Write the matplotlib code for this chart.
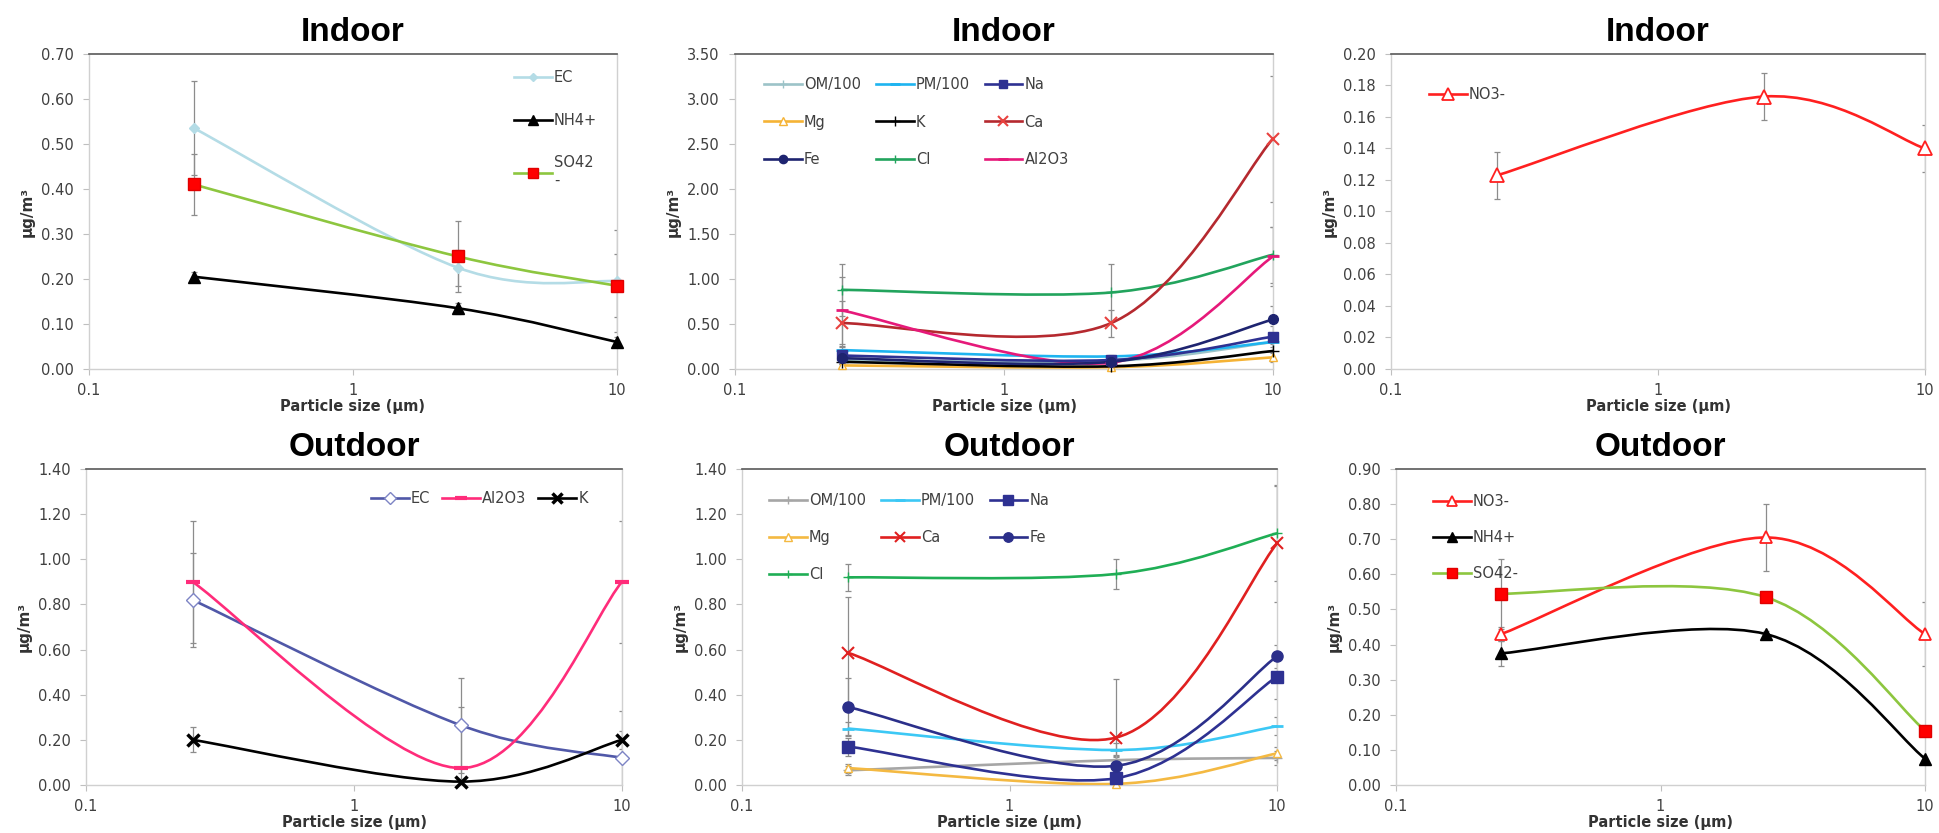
import numpy as np
import matplotlib
matplotlib.use("Agg")
import matplotlib.pyplot as plt
from matplotlib.path import Path
from matplotlib.patches import PathPatch
from matplotlib.lines import Line2D
from matplotlib.ticker import FixedLocator, FuncFormatter, NullLocator

W, H = 1939, 833
plt.rcParams['font.family'] = ['DejaVu Sans']

# particle size classes (um)
sizes = [0.25, 2.5, 10]

# --- Indoor, panel 1 (ug/m3)
in1_ec = [0.535, 0.225, 0.195]
in1_ec_err = [0.105, 0.04, 0.113]
in1_nh4 = [0.205, 0.135, 0.06]
in1_nh4_err = [0.01, 0.012, 0.01]
in1_so4 = [0.41, 0.25, 0.185]
in1_so4_err = [0.068, 0.078, 0.07]

# --- Indoor, panel 2
in2_om = [0.10, 0.09, 0.30]
in2_om_err = [0.05, 0.03, 0.10]
in2_pm = [0.21, 0.14, 0.30]
in2_pm_err = [0.03, 0.02, 0.10]
in2_na = [0.15, 0.10, 0.36]
in2_na_err = [0.05, 0.03, 0.12]
in2_mg = [0.04, 0.02, 0.13]
in2_mg_err = [0.02, 0.01, 0.05]
in2_k = [0.08, 0.03, 0.20]
in2_k_err = [0.03, 0.02, 0.08]
in2_ca = [0.51, 0.51, 2.56]
in2_ca_err = [0.25, 0.15, 0.70]
in2_fe = [0.12, 0.08, 0.55]
in2_fe_err = [0.05, 0.04, 0.15]
in2_cl = [0.88, 0.85, 1.27]
in2_cl_err = [0.29, 0.32, 0.31]
in2_al = [0.65, 0.07, 1.25]
in2_al_err = [0.37, 0.05, 0.33]

# --- Indoor, panel 3
in3_no3 = [0.123, 0.173, 0.140]
in3_no3_err = [0.015, 0.015, 0.015]

# --- Outdoor, panel 4
out4_ec = [0.82, 0.265, 0.12]
out4_ec_err = [0.21, 0.21, 0.21]
out4_al = [0.90, 0.075, 0.90]
out4_al_err = [0.27, 0.27, 0.27]
out4_k = [0.20, 0.015, 0.20]
out4_k_err = [0.055, 0.01, 0.04]

# --- Outdoor, panel 5
out5_om = [0.065, 0.11, 0.12]
out5_om_err = [0.02, 0.02, 0.03]
out5_pm = [0.25, 0.155, 0.26]
out5_pm_err = [0.03, 0.03, 0.04]
out5_na = [0.17, 0.03, 0.48]
out5_na_err = [0.04, 0.02, 0.10]
out5_mg = [0.075, 0.005, 0.14]
out5_mg_err = [0.02, 0.01, 0.03]
out5_ca = [0.585, 0.21, 1.07]
out5_ca_err = [0.25, 0.26, 0.26]
out5_fe = [0.345, 0.085, 0.57]
out5_fe_err = [0.13, 0.05, 0.05]
out5_cl = [0.92, 0.935, 1.115]
out5_cl_err = [0.06, 0.065, 0.21]

# --- Outdoor, panel 6
out6_no3 = [0.43, 0.705, 0.43]
out6_no3_err = [0.02, 0.095, 0.09]
out6_nh4 = [0.375, 0.43, 0.075]
out6_nh4_err = [0.035, 0.01, 0.01]
out6_so4 = [0.545, 0.535, 0.155]
out6_so4_err = [0.10, 0.01, 0.01]

TXT = '#404040'
fig = plt.figure(figsize=(W / 100, H / 100), dpi=100)


def smooth_path(xs, ys):
    # excel-like smoothed line: cubic bezier through the points (log x)
    pts = np.column_stack([np.log10(xs), np.asarray(ys, float)])
    n = len(pts)
    verts = [pts[0]]
    codes = [Path.MOVETO]
    for i in range(n - 1):
        p0 = pts[max(i - 1, 0)]
        p1 = pts[i]
        p2 = pts[i + 1]
        p3 = pts[min(i + 2, n - 1)]
        verts += [p1 + (p2 - p0) / 6, p2 - (p3 - p1) / 6, p2]
        codes += [Path.CURVE4] * 3
    verts = np.array(verts)
    verts[:, 0] = 10 ** verts[:, 0]
    return Path(verts, codes)


def series(ax, y, err, color, marker, ms=7, mfc=None, mec=None, mew=1.0, lw=1.9):
    mfc = color if mfc is None else mfc
    mec = color if mec is None else mec
    ax.errorbar(sizes, y, yerr=err, fmt='none', ecolor='#8C8C8C', elinewidth=0.9,
                capsize=2.5, capthick=0.9, zorder=2)
    ax.add_patch(PathPatch(smooth_path(sizes, y), fill=False, edgecolor=color,
                           lw=lw, zorder=3, capstyle='round'))
    ax.plot(sizes, y, ls='none', marker=marker, ms=ms, mfc=mfc, mec=mec, mew=mew,
            zorder=4, clip_on=False)
    return Line2D([], [], color=color, lw=lw, marker=marker, ms=ms * 0.85,
                  mfc=mfc, mec=mec, mew=mew)


def make_ax(l, r, t, b, ymax, step, title):
    ax = fig.add_axes([l / W, 1 - b / H, (r - l) / W, (b - t) / H])
    ax.set_xscale('log')
    ax.set_xlim(0.1, 10)
    ax.set_ylim(0, ymax)
    ax.xaxis.set_major_locator(FixedLocator([0.1, 1, 10]))
    ax.xaxis.set_major_formatter(FuncFormatter(lambda v, p: f'{v:g}'))
    ax.xaxis.set_minor_locator(NullLocator())
    ax.set_yticks(np.arange(0, ymax + step / 2, step))
    ax.yaxis.set_major_formatter(FuncFormatter(lambda v, p: f'{v:.2f}'))
    for s in ['left', 'bottom', 'right']:
        ax.spines[s].set_color('#D0D0D0')
        ax.spines[s].set_linewidth(1.0)
    ax.spines['top'].set_color('#595959')
    ax.spines['top'].set_linewidth(1.2)
    ax.tick_params(direction='out', length=4, width=0.8, color='#BFBFBF',
                   labelsize=10.5, labelcolor=TXT)
    ax.tick_params(axis='y', pad=7)
    ax.tick_params(axis='x', pad=6)
    ax.set_title(title, fontsize=24, fontweight='bold', family='Liberation Sans', pad=9)
    ax.set_xlabel('Particle size (µm)', fontsize=10.5, fontweight='bold', color='#333333',
                  labelpad=1)
    ax.set_ylabel('µg/m³', fontsize=11, fontweight='bold', color='#333333')
    ax.yaxis.set_label_coords(-54 / (r - l), 0.5)
    return ax


def place_legend(ax, handles, labels, x, y, ncol=1, spacing=1.3, colsp=1.0):
    ax.legend(handles, labels, loc='upper left', bbox_to_anchor=(x / W, 1 - y / H),
              bbox_transform=fig.transFigure, ncol=ncol, frameon=False, borderpad=0,
              borderaxespad=0, handlelength=2.6, handletextpad=0.15, fontsize=10.5,
              labelcolor=TXT, labelspacing=spacing, columnspacing=colsp)


# ---------------- Indoor row
ax1 = make_ax(89, 617, 54, 369, 0.70, 0.10, 'Indoor')
h_ec = series(ax1, in1_ec, in1_ec_err, '#B4DCE6', 'D', ms=5)
h_so4 = series(ax1, in1_so4, in1_so4_err, '#8DC63F', 's', ms=8, mfc='#FF0000', mec='#E00000')
h_nh4 = series(ax1, in1_nh4, in1_nh4_err, 'black', '^', ms=8)
place_legend(ax1, [h_ec, h_nh4, h_so4], ['EC', 'NH4+', 'SO42\n-'], 514, 70, spacing=1.9)

ax2 = make_ax(735, 1273, 54, 369, 3.50, 0.50, 'Indoor')
h = {}
h['om'] = series(ax2, in2_om, in2_om_err, '#9CC3C8', '+', ms=7)
h['pm'] = series(ax2, in2_pm, in2_pm_err, '#1EB4F0', '_', ms=8, mew=2)
h['mg'] = series(ax2, in2_mg, in2_mg_err, '#F5B335', '^', ms=6, mfc='white')
h['k'] = series(ax2, in2_k, in2_k_err, 'black', '+', ms=8)
h['cl'] = series(ax2, in2_cl, in2_cl_err, '#22A45D', '+', ms=7)
h['ca'] = series(ax2, in2_ca, in2_ca_err, '#B5292F', 'x', ms=8, mec='#E8423F', mew=1.5)
h['al'] = series(ax2, in2_al, in2_al_err, '#E6197A', '_', ms=8, mew=2)
h['na'] = series(ax2, in2_na, in2_na_err, '#2E3192', 's', ms=7)
h['fe'] = series(ax2, in2_fe, in2_fe_err, '#1E2470', 'o', ms=7)
place_legend(ax2, [h['om'], h['mg'], h['fe'], h['pm'], h['k'], h['cl'], h['na'], h['ca'], h['al']],
             ['OM/100', 'Mg', 'Fe', 'PM/100', 'K', 'Cl', 'Na', 'Ca', 'Al2O3'],
             764, 77, ncol=3, spacing=1.55, colsp=1.0)

ax3 = make_ax(1391, 1925, 54, 369, 0.20, 0.02, 'Indoor')
h_no3 = series(ax3, in3_no3, in3_no3_err, '#FF2020', '^', ms=10, mfc='white', mew=1.3)
place_legend(ax3, [h_no3], ['NO3-'], 1429, 87)

# ---------------- Outdoor row
ax4 = make_ax(86, 622, 469, 785, 1.40, 0.20, 'Outdoor')
h_ec4 = series(ax4, out4_ec, out4_ec_err, '#5058A8', 'D', ms=7, mfc='white', mec='#7D84C4')
h_al4 = series(ax4, out4_al, out4_al_err, '#FF2C7A', '_', ms=10, mew=3)
h_k4 = series(ax4, out4_k, out4_k_err, 'black', 'x', ms=9, mew=2.5)
place_legend(ax4, [h_ec4, h_al4, h_k4], ['EC', 'Al2O3', 'K'], 371, 491, ncol=3, colsp=0.8)

ax5 = make_ax(742, 1277, 469, 785, 1.40, 0.20, 'Outdoor')
g = {}
g['om'] = series(ax5, out5_om, out5_om_err, '#A6A6A6', '+', ms=7)
g['mg'] = series(ax5, out5_mg, out5_mg_err, '#F4B942', '^', ms=6, mfc='white')
g['pm'] = series(ax5, out5_pm, out5_pm_err, '#3CC8F5', '_', ms=8, mew=2)
g['cl'] = series(ax5, out5_cl, out5_cl_err, '#1FAE55', '+', ms=7)
g['ca'] = series(ax5, out5_ca, out5_ca_err, '#E02020', 'x', ms=8, mew=1.5)
g['na'] = series(ax5, out5_na, out5_na_err, '#2E3192', 's', ms=8)
g['fe'] = series(ax5, out5_fe, out5_fe_err, '#2B2F8A', 'o', ms=8)
place_legend(ax5, [g['om'], g['mg'], g['cl'], g['pm'], g['ca'], g['na'], g['fe']],
             ['OM/100', 'Mg', 'Cl', 'PM/100', 'Ca', 'Na', 'Fe'],
             769, 493, ncol=3, spacing=1.5, colsp=1.0)

ax6 = make_ax(1396, 1925, 469, 785, 0.90, 0.10, 'Outdoor')
h_no36 = series(ax6, out6_no3, out6_no3_err, '#FF2020', '^', ms=9, mfc='white', mew=1.3)
h_so46 = series(ax6, out6_so4, out6_so4_err, '#8DC63F', 's', ms=8, mfc='#FF0000', mec='#E00000')
h_nh46 = series(ax6, out6_nh4, out6_nh4_err, 'black', '^', ms=8)
place_legend(ax6, [h_no36, h_nh46, h_so46], ['NO3-', 'NH4+', 'SO42-'], 1433, 494, spacing=1.45)

fig.savefig('out.png', dpi=100)
